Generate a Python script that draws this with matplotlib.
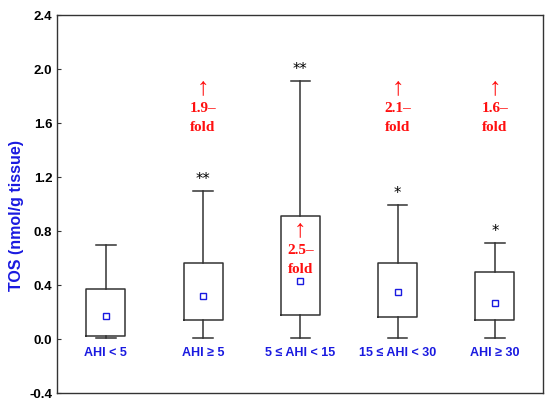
import matplotlib
matplotlib.use("Agg")
import matplotlib.pyplot as plt

# ─── Data ───
groups = ["AHI < 5", "AHI ≥ 5", "5 ≤ AHI < 15", "15 ≤ AHI < 30", "AHI ≥ 30"]
q1 = [0.02, 0.14, 0.18, 0.16, 0.14]
q3 = [0.37, 0.56, 0.91, 0.56, 0.50]
whislo = [0.01, 0.01, 0.01, 0.01, 0.01]
whishi = [0.70, 1.10, 1.91, 0.99, 0.71]
means = [0.17, 0.32, 0.43, 0.35, 0.27]
stars = ["", "**", "**", "*", "*"]
fold = ["", "1.9", "2.5", "2.1", "1.6"]
fold_y = [None, 1.86, 0.81, 1.86, 1.86]  # y of the arrow for each group

yticks = [-0.4, 0.0, 0.4, 0.8, 1.2, 1.6, 2.0, 2.4]

BLUE = "#1a1ae0"
RED = "#ff1010"
EDGE = "#333333"

fig = plt.figure(figsize=(5.5, 4.09), dpi=100)
ax = fig.add_axes([0.104, 0.039, 0.884, 0.924])

stats = []
for i, g in enumerate(groups):
    stats.append({
        "label": g, "q1": q1[i], "q3": q3[i], "med": q1[i],
        "whislo": whislo[i], "whishi": whishi[i], "mean": means[i], "fliers": [],
    })

pos = list(range(1, len(groups) + 1))
ax.bxp(
    stats, positions=pos, widths=0.4, showmeans=True, showfliers=False,
    boxprops=dict(color=EDGE, linewidth=1.1),
    whiskerprops=dict(color=EDGE, linewidth=1.1),
    capprops=dict(color=EDGE, linewidth=1.1),
    medianprops=dict(visible=False),
    meanprops=dict(marker="s", markerfacecolor="none", markeredgecolor=BLUE,
                   markersize=4.5, markeredgewidth=1.0),
    capwidths=0.2,
)

# significance stars above upper whiskers
for x, s, hi in zip(pos, stars, whishi):
    if s:
        ax.text(x, hi + 0.03, s, ha="center", va="bottom", fontsize=10.5,
                color="black")

# red fold-change annotations
serif = ["Liberation Serif", "DejaVu Serif"]
for x, f, fy in zip(pos, fold, fold_y):
    if f:
        ax.text(x, fy, "↑", ha="center", va="center", color=RED,
                fontsize=18, family=serif)
        ax.text(x, fy - 0.155, f + "–", ha="center", va="center", color=RED,
                fontsize=11, fontweight="bold", family=serif)
        ax.text(x, fy - 0.295, "fold", ha="center", va="center", color=RED,
                fontsize=11, fontweight="bold", family=serif)

# category labels inside the plot
for x, g in zip(pos, groups):
    ax.text(x, -0.10, g, ha="center", va="center", color=BLUE, fontsize=9,
            fontweight="bold", family=["Liberation Sans", "DejaVu Sans"])

ax.set_xlim(0.5, 5.5)
ax.set_ylim(-0.4, 2.4)
ax.set_xticks([])
ax.set_yticks(yticks)
ax.set_yticklabels([f"{v:.1f}" for v in yticks],
                   family=["Liberation Sans Narrow", "Liberation Sans"],
                   fontweight="bold", fontsize=9.5)
ax.tick_params(axis="y", direction="in", length=3, width=0.8, color=EDGE)
ax.set_ylabel("TOS (nmol/g tissue)", color=BLUE, fontsize=11.5, fontweight="bold",
              family=["Liberation Sans", "DejaVu Sans"])
ax.yaxis.set_label_coords(-0.068, 0.47)
for sp in ax.spines.values():
    sp.set_color(EDGE)
    sp.set_linewidth(1.0)

fig.savefig("out.png", dpi=100)
